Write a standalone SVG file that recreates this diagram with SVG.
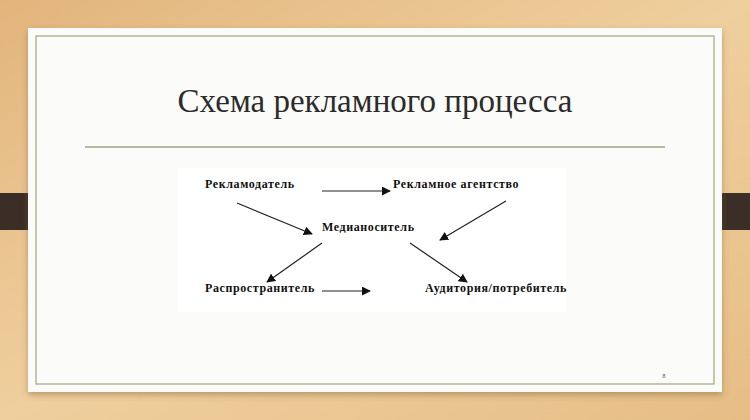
<svg xmlns="http://www.w3.org/2000/svg" width="750" height="420" viewBox="0 0 750 420">
<defs>
<linearGradient id="wood" x1="0" y1="0" x2="1" y2="1">
<stop offset="0" stop-color="#e2b57c"/>
<stop offset="0.5" stop-color="#efcf9e"/>
<stop offset="1" stop-color="#e6bd85"/>
</linearGradient>
<filter id="sh" x="-5%" y="-5%" width="110%" height="115%">
<feDropShadow dx="0" dy="3" stdDeviation="3" flood-color="#7a5a30" flood-opacity="0.45"/>
</filter>
<marker id="ah" viewBox="0 0 10 10" refX="9" refY="5" markerWidth="9" markerHeight="9" markerUnits="userSpaceOnUse" orient="auto">
<path d="M0,0 L10,5 L0,10 Z" fill="#111"/>
</marker>
</defs>
<style>
.lbl{font-family:"Liberation Serif","Times New Roman",serif;font-weight:bold;font-size:12px;letter-spacing:0.6px;fill:#111}
.con{stroke:#222;stroke-width:1.2;fill:none;marker-end:url(#ah)}
.title{font-family:"Liberation Serif","Times New Roman",serif;font-size:33px;fill:#2b2b2b}
</style>
<rect x="0" y="0" width="750" height="420" fill="url(#wood)"/>
<rect x="0" y="193" width="46" height="37" fill="#3a2e26"/>
<rect x="704" y="193" width="46" height="37" fill="#3a2e26"/>
<rect x="28" y="28" width="694" height="364" fill="#fbfbfa" filter="url(#sh)"/>
<rect x="36" y="36" width="678" height="348" fill="none" stroke="#a4a77c" stroke-width="1.2"/>
<text class="title" x="375" y="112" text-anchor="middle">Схема рекламного процесса</text>
<line x1="85" y1="147" x2="665" y2="147" stroke="#b8baa2" stroke-width="2"/>
<rect x="178" y="168" width="388" height="144" fill="#ffffff"/>
<g id="connectors">
<line class="con" x1="322" y1="191" x2="390" y2="191"/>
<line class="con" x1="237" y1="203" x2="312" y2="234"/>
<line class="con" x1="506" y1="201" x2="440" y2="240"/>
<line class="con" x1="322" y1="243" x2="267" y2="282"/>
<line class="con" x1="410" y1="243" x2="467" y2="282"/>
<line class="con" x1="322" y1="291" x2="370" y2="291"/>
</g>
<g id="n1"><text class="lbl" x="205" y="188">Рекламодатель</text></g>
<g id="n2"><text class="lbl" x="393" y="188">Рекламное агентство</text></g>
<g id="n3"><text class="lbl" x="322" y="231">Медианоситель</text></g>
<g id="n4"><text class="lbl" x="205" y="292">Распространитель</text></g>
<g id="n5"><text class="lbl" x="425" y="292">Аудитория/потребитель</text></g>
<text x="664" y="378" font-family="Liberation Sans, Arial, sans-serif" font-size="6" fill="#666" text-anchor="middle">8</text>
</svg>
